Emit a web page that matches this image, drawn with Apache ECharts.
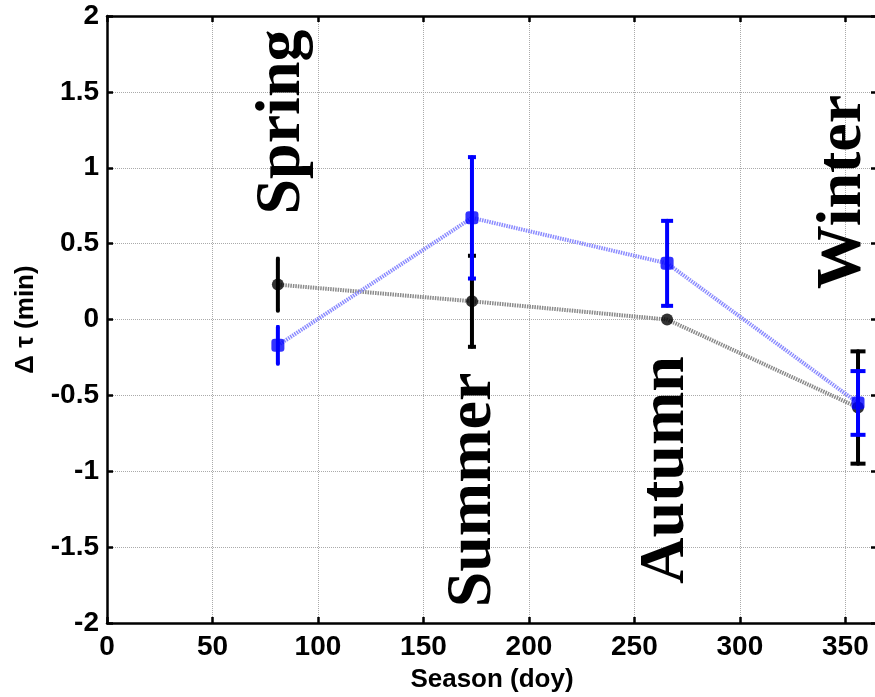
<!DOCTYPE html>
<html>
<head>
<meta charset="utf-8">
<script src="https://cdn.jsdelivr.net/npm/echarts@6/dist/echarts.min.js"></script>
<style>html,body{margin:0;padding:0;background:#fff}#c{width:875px;height:697px}</style>
</head>
<body>
<div id="c"></div>
<script>
// Data
const seasonDoy = [81, 173, 265.5, 356];
const seriesBlackY = [0.23, 0.12, 0.0, -0.58];
const seriesBlackErr = [0.17, 0.30, 0.0, 0.37];
const seriesBlueY = [-0.17, 0.67, 0.37, -0.55];
const seriesBlueErr = [0.12, 0.40, 0.28, 0.21];
const seasonNames = ['Spring', 'Summer', 'Autumn', 'Winter'];
const xTicks = [0, 50, 100, 150, 200, 250, 300, 350];
const yTicks = [-2, -1.5, -1, -0.5, 0, 0.5, 1, 1.5, 2];

// style only
const capPx = [3, 8, 12, 15];
const seasonLabelPos = [[282, 122], [473, 490], [666, 470], [843, 192]];

const chart = echarts.init(document.getElementById('c'), null, {renderer: 'canvas'});

function errData(ys, es) {
  return seasonDoy.map((x, i) => [x, ys[i], es[i]]);
}
function errRenderer(color) {
  return function (params, api) {
    const x = api.value(0), y = api.value(1), e = api.value(2);
    if (!e) return {type: 'group', children: []};
    const t = api.coord([x, y + e]);
    const b = api.coord([x, y - e]);
    const hw = capPx[params.dataIndex] / 2;
    const st = {stroke: color, lineWidth: 4, lineCap: 'butt'};
    return {
      type: 'group',
      children: [
        {type: 'line', shape: {x1: t[0], y1: t[1], x2: b[0], y2: b[1]}, style: Object.assign({}, st, {lineCap: 'round'})},
        {type: 'line', shape: {x1: t[0] - hw, y1: t[1], x2: t[0] + hw, y2: t[1]}, style: st},
        {type: 'line', shape: {x1: b[0] - hw, y1: b[1], x2: b[0] + hw, y2: b[1]}, style: st}
      ]
    };
  };
}
const pts = (ys) => seasonDoy.map((x, i) => [x, ys[i]]);

const tickFont = {fontFamily: 'Liberation Sans', fontWeight: 'bold', fontSize: 28, color: '#000'};

chart.setOption({
  animation: false,
  backgroundColor: '#fff',
  grid: {left: 107, top: 16, width: 770, height: 607, containLabel: false, outerBoundsMode: 'none'},
  xAxis: [{
    type: 'value', min: 0, max: 365, interval: 50, position: 'bottom',
    name: 'Season (doy)', nameLocation: 'middle', nameGap: 44,
    nameTextStyle: {fontFamily: 'Liberation Sans', fontWeight: 'bold', fontSize: 26, color: '#000'},
    axisLine: {show: true, onZero: false, lineStyle: {color: '#000', width: 2.5}},
    axisTick: {show: true, inside: true, length: 6, lineStyle: {color: '#000', width: 2.5}},
    axisLabel: Object.assign({margin: 10, formatter: v => xTicks.includes(v) ? String(v) : ''}, tickFont),
    splitLine: {show: true, lineStyle: {color: '#aaa', type: [1, 1], width: 1}}
  }, {
    type: 'value', min: 0, max: 365, interval: 50, position: 'top',
    axisLine: {show: true, onZero: false, lineStyle: {color: '#000', width: 2.5}},
    axisTick: {show: true, inside: true, length: 6, lineStyle: {color: '#000', width: 2.5}},
    axisLabel: {show: false}, splitLine: {show: false}
  }],
  yAxis: [{
    type: 'value', min: -2, max: 2, interval: 0.5, position: 'left',
    name: 'Δ τ (min)', nameLocation: 'middle', nameGap: 68, nameRotate: 90,
    nameTextStyle: {fontFamily: 'Liberation Sans', fontWeight: 'bold', fontSize: 26, color: '#000'},
    axisLine: {show: true, onZero: false, lineStyle: {color: '#000', width: 2.5}},
    axisTick: {show: true, inside: true, length: 6, lineStyle: {color: '#000', width: 2.5}},
    axisLabel: Object.assign({margin: 8, formatter: v => yTicks.includes(v) ? String(v) : ''}, tickFont),
    splitLine: {show: true, lineStyle: {color: '#aaa', type: [1, 1], width: 1}}
  }, {
    type: 'value', min: -2, max: 2, interval: 0.5, position: 'right',
    axisLine: {show: true, onZero: false, lineStyle: {color: '#000', width: 2.5}},
    axisTick: {show: true, inside: true, length: 6, lineStyle: {color: '#000', width: 2.5}},
    axisLabel: {show: false}, splitLine: {show: false}
  }],
  series: [
    {type: 'line', data: pts(seriesBlackY), showSymbol: false, symbol: 'none', z: 1,
     lineStyle: {color: '#8a8a8a', width: 4, type: [1.5, 1]}},
    {type: 'line', data: pts(seriesBlueY), showSymbol: false, symbol: 'none', z: 1,
     lineStyle: {color: '#8b8bff', width: 4, type: [1.5, 1]}},
    {type: 'custom', data: errData(seriesBlackY, seriesBlackErr), renderItem: errRenderer('#000'), z: 2},
    {type: 'scatter', data: pts(seriesBlackY), symbol: 'circle', symbolSize: 12, z: 3,
     itemStyle: {color: '#000'}},
    {type: 'custom', data: errData(seriesBlueY, seriesBlueErr), renderItem: errRenderer('#0000ff'), z: 4},
    {type: 'scatter', data: pts(seriesBlueY), symbol: 'roundRect', symbolSize: 13, z: 5,
     itemStyle: {color: '#0000ff'}}
  ],
  graphic: seasonNames.map((name, i) => ({
    type: 'text', x: seasonLabelPos[i][0], y: seasonLabelPos[i][1], rotation: Math.PI / 2, z: 10,
    style: {text: name, fontFamily: 'Liberation Serif', fontWeight: 'bold', fontSize: 64,
            fill: '#000', align: 'center', verticalAlign: 'middle',
            textAlign: 'center', textVerticalAlign: 'middle'}
  }))
});
</script>
</body>
</html>
